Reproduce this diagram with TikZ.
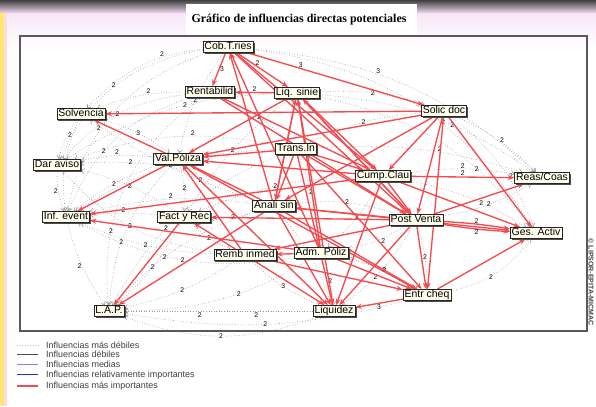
\documentclass[tikz,border=0pt]{standalone}
\usepackage{fontspec}
\setmainfont{Liberation Sans}
\newfontfamily\titlefont{Liberation Serif}
\usetikzlibrary{arrows.meta,shadows,positioning}
\definecolor{impred}{RGB}{243,76,80}
\definecolor{medblue}{RGB}{130,130,230}
\definecolor{relblue}{RGB}{40,40,245}
\pgfdeclarelayer{bg}
\pgfdeclarelayer{links}
\pgfsetlayers{bg,links,main}
\tikzset{
  var/.style={draw=black!85, fill=yellow!7, line width=0.6pt, inner xsep=1.5pt, inner ysep=0.9pt,
    font=\fontsize{10.5}{11}\selectfont, text height=7.6pt, text depth=2pt,
    drop shadow={shadow xshift=1.6pt, shadow yshift=-1.6pt, fill=black!70, opacity=1}},
  imp/.style={draw=impred, line width=1.35pt, -{Stealth[length=6.5pt,width=5pt]}},
  weak/.style={draw=gray!80, dotted, line width=0.6pt, -{Straight Barb[length=3pt,width=5pt]}},
  num/.style={font=\fontsize{6.8}{6.8}\selectfont, inner sep=0.4pt, text=black},
  legtext/.style={font=\fontsize{9}{10}\selectfont, text=black!75, inner sep=0pt}
}
\begin{document}
\begin{tikzpicture}[x=1bp, y=-1bp]
  \useasboundingbox (0,0) rectangle (596,406);
  \begin{pgfonlayer}{bg}
  \fill[white] (0,0) rectangle (596,406);
  \shade[top color=black!75, bottom color=black!45!magenta!15!white] (0,0) rectangle (596,13);
  \shade[top color=black!30!magenta!10!white, bottom color=white] (0,13) rectangle (596,48);
  \fill[yellow!75!orange!55!white] (0,13) rectangle (3.5,406);
  \fill[pink!55] (3.5,13) rectangle (7,406);
  \fill[white] (186,4) rectangle (417,36);
  \end{pgfonlayer}
  \node (title) at (299,20) {\titlefont\bfseries\fontsize{12}{14}\selectfont Gráfico de influencias directas potenciales};
  \draw[black!65, line width=1.2pt] (20,36) rectangle (587,331);

  \node[var] (cob) at (228,47) {Cob.T.ries};
  \node[var] (rent) at (210,92) {Rentabilid};
  \node[var] (liq) at (297,93) {Liq. sinie};
  \node[var] (solic) at (444,111) {Solic doc};
  \node[var] (solv) at (81,114) {Solvencia};
  \node[var] (dar) at (57,165) {Dar aviso};
  \node[var] (val) at (178,159) {Val.Póliza};
  \node[var] (trans) at (296,149) {Trans.In};
  \node[var] (cump) at (383,176) {Cump.Clau};
  \node[var] (reas) at (542,178) {Reas/Coas};
  \node[var] (anal) at (274,206) {Anali sin};
  \node[var] (inf) at (66,217) {Inf. event};
  \node[var] (fact) at (184,217) {Fact y Rec};
  \node[var] (post) at (416,220) {Post Venta};
  \node[var] (ges) at (536,233) {Ges. Activ};
  \node[var] (remb) at (245,255) {Remb inmed};
  \node[var] (adm) at (321,253) {Adm. Póliz};
  \node[var] (entr) at (427,295) {Entr cheq};
  \node[var] (liqz) at (334,311) {Liquidez};
  \node[var] (lap) at (109,311) {L.A.P.};

  \begin{pgfonlayer}{links}
  \draw[weak] (cob) edge[bend right=20] node[num,pos=.3,above]{2} (solv)
    edge[bend right=28] node[num,pos=.5,left]{2} (dar)
    edge[bend right=30] node[num,pos=.6,left]{2} (inf)
    edge[bend right=12] node[num,pos=.5]{2} (val)
    edge[bend left=18] node[num,pos=.4,above]{3} (reas)
    edge[bend left=25] node[num,pos=.6,right]{2} (ges);
  \draw[weak] (rent) edge[bend right=10] node[num,pos=.4,above]{2} (solv)
    edge[bend right=20] node[num,pos=.5]{2} (dar)
    edge[bend right=25] node[num,pos=.6]{2} (inf)
    edge[bend right=30] node[num,pos=.7]{2} (lap)
    edge[bend left=10] node[num,pos=.5]{2} (trans);
  \draw[weak] (liq) edge[bend left=15] node[num,pos=.6]{2} (reas)
    edge[bend left=20] node[num,pos=.7]{2} (ges)
    edge[bend right=15] node[num,pos=.4]{2} (dar)
    edge[bend left=10] node[num,pos=.5]{2} (solic)
    edge[bend right=10] node[num,pos=.5]{2} (fact);
  \draw[weak] (solic) edge[bend left=10] node[num,pos=.5,right]{2} (reas)
    edge[bend left=15] node[num,pos=.6,right]{2} (ges)
    edge[bend right=10] node[num,pos=.5]{2} (trans);
  \draw[weak] (solv) edge[bend right=10] node[num,pos=.4,right]{2} (dar)
    edge[bend left=10] node[num,pos=.5]{3} (val)
    edge[bend right=15] node[num,pos=.5]{2} (inf);
  \draw[weak] (val) edge[bend right=8] node[num,pos=.5,above]{2} (dar)
    edge[bend right=10] node[num,pos=.5]{2} (inf)
    edge[bend right=20] node[num,pos=.6]{2} (lap)
    edge[bend left=10] node[num,pos=.5]{2} (fact);
  \draw[weak] (trans) edge[bend right=15] node[num,pos=.4,above]{2} (dar)
    edge[bend right=15] node[num,pos=.5]{2} (inf)
    edge[bend left=10] node[num,pos=.6,above]{2} (reas)
    edge[bend right=20] node[num,pos=.6]{2} (lap)
    edge[bend left=8] node[num,pos=.4]{2} (adm);
  \draw[weak] (cump) edge[bend left=8] node[num,pos=.5,above]{2} (reas)
    edge[bend left=10] node[num,pos=.6]{2} (ges)
    edge[bend right=10] node[num,pos=.5]{2} (fact)
    edge[bend left=10] node[num,pos=.5]{2} (adm);
  \draw[weak] (anal) edge[bend right=15] node[num,pos=.75]{2} (dar)
    edge[bend right=15] node[num,pos=.6]{2} (lap)
    edge[bend left=10] node[num,pos=.5]{2} (liqz)
    edge[bend right=10] node[num,pos=.5,above]{2} (inf)
    edge[bend left=10] node[num,pos=.5]{2} (fact)
    edge[bend left=8] node[num,pos=.3]{2} (solv);
  \draw[weak] (fact) edge[bend right=5] node[num,pos=.5,above]{2} (inf)
    edge[bend left=10] node[num,pos=.5]{2} (lap)
    edge[bend right=10] node[num,pos=.5]{2} (dar)
    edge[bend right=10] node[num,pos=.5]{2} (remb);
  \draw[weak] (post) edge[bend right=10] node[num,pos=.5]{2} (reas)
    edge[bend left=8] node[num,pos=.5]{2} (entr)
    edge[bend left=12] node[num,pos=.6]{2} (liqz)
    edge[bend left=10] node[num,pos=.4,below]{2} (adm)
    edge[bend right=12] node[num,pos=.5]{2} (anal);
  \draw[weak] (remb) edge[bend left=10] node[num,pos=.5]{2} (lap)
    edge[bend right=10] node[num,pos=.5]{3} (liqz)
    edge[bend left=10] node[num,pos=.5]{2} (inf)
    edge[bend left=20] node[num,pos=.5]{2} (dar);
  \draw[weak] (adm) edge[bend left=15] node[num,pos=.4]{2} (lap)
    edge[bend left=8] node[num,pos=.5]{2} (liqz)
    edge[bend left=10] node[num,pos=.5]{2} (entr)
    edge[bend left=18] node[num,pos=.5]{2} (inf);
  \draw[weak] (entr) edge[bend right=20] node[num,pos=.4,right]{2} (ges)
    edge[bend right=10] node[num,pos=.5]{2} (adm)
    edge[bend left=12] node[num,pos=.5]{2} (lap);
  \draw[weak] (liqz) edge node[num,pos=.3,below=1pt]{2} node[num,pos=.6,below=1pt]{2} (lap)
    edge[bend left=20] node[num,pos=.5]{2} (lap);
  \draw[weak] (dar) edge[bend right=10] node[num,pos=.5,left]{2} (inf);
  \draw[weak] (inf) edge[bend right=10] node[num,pos=.5,left]{2} (lap);

  \draw[imp] (cob) edge node[num,pos=.5,right]{3} (rent)
    edge node[num,pos=.4,above]{2} (liq)
    edge node[num,pos=.3,above]{3} (solic)
    edge (cump)
    edge (post);
  \draw[imp] (liq) edge node[num,pos=.5,above]{2} (rent)
    edge (val)
    edge (cump)
    edge (post)
    edge (anal)
    edge (liqz);
  \draw[imp] (solic) edge (solv)
    edge (val)
    edge (cump)
    edge (post)
    edge (anal)
    edge (ges)
    edge (entr);
  \draw[imp] (rent) edge (post)
    edge (cump);
  \draw[imp] (trans) edge (val)
    edge (cump)
    edge (anal)
    edge (liqz)
    edge (entr)
    edge (post);
  \draw[imp] (val) edge (solv)
    edge (inf)
    edge (entr)
    edge (liqz);
  \draw[imp] (cump) edge (inf)
    edge node[num,pos=.5,above]{2} (reas)
    edge (post)
    edge (ges)
    edge (liqz)
    edge (val);
  \draw[imp] (anal) edge (cob)
    edge (lap)
    edge (val)
    edge (liq)
    edge (ges)
    edge (entr)
    edge (liqz);
  \draw[imp] (fact) edge (lap);
  \draw[imp] (post) edge (fact)
    edge (anal)
    edge[bend left=3] node[num,pos=.5,above]{2} (ges)
    edge[bend right=3] node[num,pos=.5,below]{2} (ges)
    edge (reas)
    edge (liqz)
    edge (entr)
    edge (remb)
    edge (liq);
  \draw[imp] (remb) edge (fact)
    edge (val)
    edge (entr)
    edge (liqz);
  \draw[imp] (adm) edge (cob)
    edge (liq)
    edge (inf)
    edge (remb)
    edge (entr);
  \draw[imp] (entr) edge node[num,pos=.5,below]{3} (liqz)
    edge (ges);
  \end{pgfonlayer}

  \node[rotate=-90, font=\fontsize{7}{7}\selectfont\bfseries, text=black!75] (copy) at (591,282) {© LIPSOR-EPITA-MICMAC};

  \node[legtext, anchor=west] (l1) at (46,345) {Influencias más débiles};
  \node[legtext, below=2.6pt of l1.south west, anchor=north west] (l2) {Influencias débiles};
  \node[legtext, below=2.6pt of l2.south west, anchor=north west] (l3) {Influencias medias};
  \node[legtext, below=2.6pt of l3.south west, anchor=north west] (l4) {Influencias relativamente importantes};
  \node[legtext, below=2.6pt of l4.south west, anchor=north west] (l5) {Influencias más importantes};
  \draw[gray!50, dotted, line width=0.6pt] ([xshift=-29pt]l1.west) -- ([xshift=-8pt]l1.west);
  \draw[black!70, line width=0.5pt] ([xshift=-29pt]l2.west) -- ([xshift=-8pt]l2.west);
  \draw[medblue, line width=0.9pt] ([xshift=-29pt]l3.west) -- ([xshift=-8pt]l3.west);
  \draw[relblue, line width=1.4pt] ([xshift=-29pt]l4.west) -- ([xshift=-8pt]l4.west);
  \draw[impred, line width=1.5pt] ([xshift=-29pt]l5.west) -- ([xshift=-8pt]l5.west);
\end{tikzpicture}
\end{document}
